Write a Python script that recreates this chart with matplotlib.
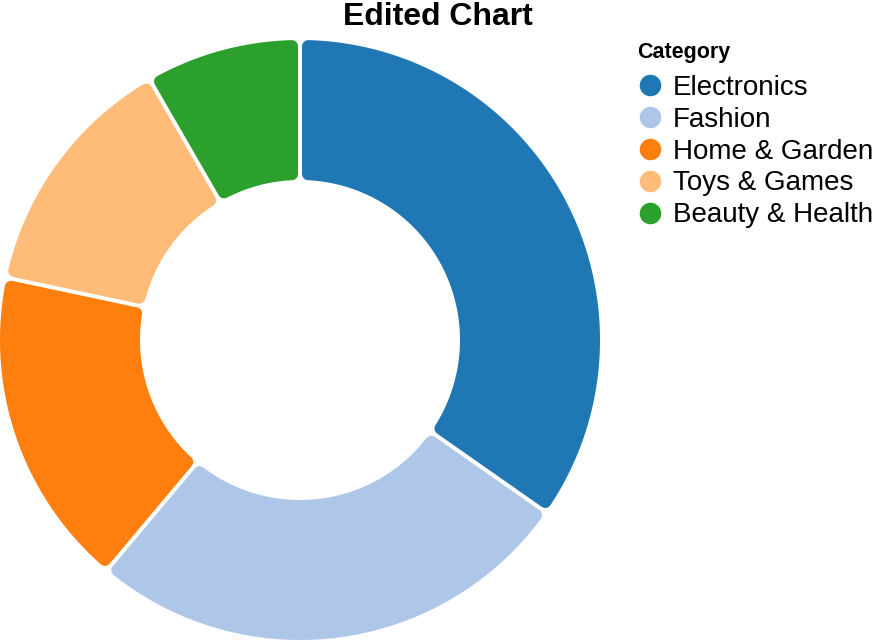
import numpy as np
import matplotlib
matplotlib.use("Agg")
import matplotlib.pyplot as plt
from matplotlib.path import Path
from matplotlib.patches import PathPatch
from matplotlib.lines import Line2D

plt.rcParams['font.family'] = ['Liberation Sans', 'DejaVu Sans']

categories = ["Electronics", "Fashion", "Home & Garden", "Toys & Games", "Beauty & Health"]
values = [125, 95, 62, 48, 30]
colors = ["#1f77b4", "#aec7e8", "#ff7f0e", "#ffbb78", "#2ca02c"]

fig = plt.figure(figsize=(8.76, 6.4), dpi=100)
ax = fig.add_axes([0, 0, 600 / 876, 600 / 640])
ax.set_xlim(-1, 1)
ax.set_ylim(-1, 1)
ax.axis("off")

# geometry in data units (300 px per unit)
px = 1 / 300
r_out, r_in = 1.0, 160 * px
corner = 6 * px          # rounded corner radius
gap = 4 * px             # white gap between slices
off = gap / 2 + corner
ro, ri = r_out - corner, r_in + corner
lw = 2 * corner / px * 72 / 100  # stroke width in points

total = sum(values)
edges = 90 - 360 * np.concatenate([[0], np.cumsum(values)]) / total
for i, c in enumerate(colors):
    a_hi, a_lo = np.radians(edges[i]), np.radians(edges[i + 1])
    do, di = np.arcsin(off / ro), np.arcsin(off / ri)
    t_out = np.linspace(a_hi - do, a_lo + do, 120)
    t_in = np.linspace(a_lo + di, a_hi - di, 120)
    xs = np.concatenate([ro * np.cos(t_out), ri * np.cos(t_in)])
    ys = np.concatenate([ro * np.sin(t_out), ri * np.sin(t_in)])
    verts = np.column_stack([xs, ys])
    verts = np.vstack([verts, verts[:1]])
    codes = [Path.MOVETO] + [Path.LINETO] * (len(verts) - 2) + [Path.CLOSEPOLY]
    patch = PathPatch(Path(verts, codes), facecolor=c, edgecolor=c,
                      linewidth=lw, joinstyle="round", clip_on=False)
    ax.add_patch(patch)

fig.suptitle("Edited Chart", x=0.5, y=1 - 2 / 640, va="top",
             fontsize=23, fontweight="bold")

# legend title drawn separately for exact spacing
fig.text(637 / 876, 1 - 58 / 640, "Category", fontsize=15.5,
         fontweight="bold", va="baseline", ha="left")

handles = [Line2D([], [], marker="o", linestyle="none", markersize=14.5,
                  markerfacecolor=c, markeredgecolor=c) for c in colors]
fig.legend(handles, categories, loc="upper left",
           bbox_to_anchor=(636 / 876, 1 - 75 / 640), frameon=False,
           fontsize=20, labelspacing=0.21, handlelength=1.0,
           handletextpad=0.33, borderpad=0, borderaxespad=0)

fig.savefig("out.png", dpi=100)
